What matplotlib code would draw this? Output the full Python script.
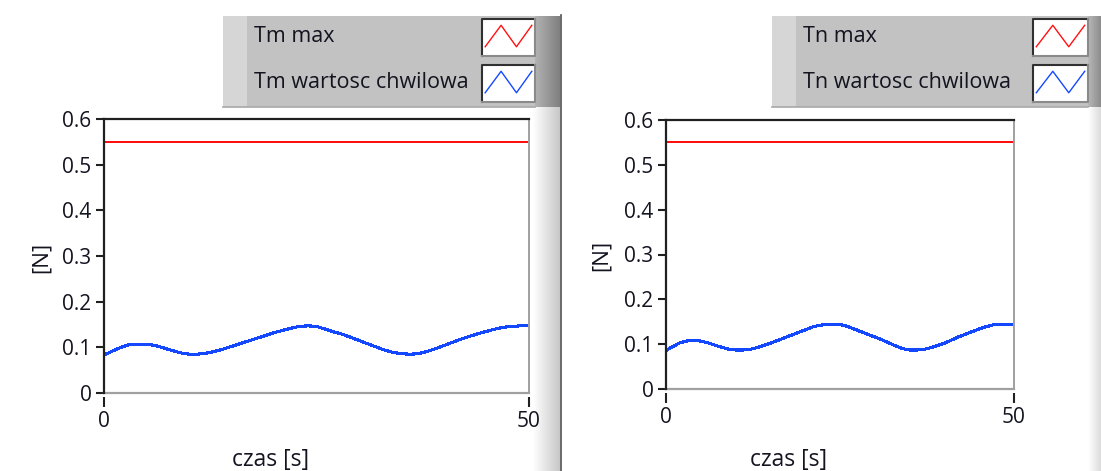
import numpy as np
import matplotlib
matplotlib.use("Agg")
import matplotlib.pyplot as plt
from matplotlib.patches import Rectangle
from matplotlib.lines import Line2D

# === Data ===
czas = list(range(0, 51))

tm_max = [0.55] * len(czas)
tm_chwilowa = [0.083, 0.092, 0.100, 0.106, 0.107, 0.107, 0.104, 0.099, 0.093, 0.088,
               0.085, 0.085, 0.087, 0.091, 0.096, 0.102, 0.108, 0.114, 0.120, 0.126,
               0.132, 0.137, 0.142, 0.146, 0.147, 0.146, 0.140, 0.134, 0.129, 0.122,
               0.115, 0.108, 0.101, 0.094, 0.089, 0.086, 0.085, 0.086, 0.091, 0.097,
               0.104, 0.111, 0.118, 0.124, 0.130, 0.135, 0.140, 0.144, 0.146, 0.147,
               0.147]

tn_max = [0.55] * len(czas)
tn_chwilowa = [0.086, 0.095, 0.103, 0.107, 0.108, 0.107, 0.103, 0.098, 0.093, 0.089,
               0.087, 0.087, 0.088, 0.092, 0.097, 0.102, 0.108, 0.114, 0.120, 0.126,
               0.132, 0.138, 0.142, 0.144, 0.144, 0.144, 0.140, 0.134, 0.128, 0.122,
               0.116, 0.110, 0.103, 0.096, 0.090, 0.087, 0.087, 0.088, 0.092, 0.097,
               0.102, 0.109, 0.116, 0.122, 0.128, 0.134, 0.139, 0.143, 0.144, 0.144,
               0.144]

y_ticks = [0, 0.1, 0.2, 0.3, 0.4, 0.5, 0.6]
y_ticklabels = ["0", "0.1", "0.2", "0.3", "0.4", "0.5", "0.6"]
x_ticks = [0, 50]

# === Look ===
plt.rcParams['font.family'] = ['Open Sans', 'DejaVu Sans']
W, H = 1101, 471
FS = 15
TXT = '#141420'
RED = '#ff1010'
BLUE = '#1448ff'


def box(x0, y0, x1, y1):
    # pixel box (top-left origin) -> figure fraction rect
    return [x0 / W, 1 - y1 / H, (x1 - x0) / W, (y1 - y0) / H]


def gradient(fig, rect, c0, c1):
    ax = fig.add_axes(rect, zorder=-1)
    g = np.linspace(c0, c1, 64)[None, :]
    ax.imshow(g, cmap='gray', vmin=0, vmax=1, aspect='auto')
    ax.set_axis_off()
    return ax


def rect(fig, x0, y0, x1, y1, **kw):
    r = box(x0, y0, x1, y1)
    fig.add_artist(Rectangle((r[0], r[1]), r[2], r[3], transform=fig.transFigure, **kw))


def swatch(fig, x0, y0, x1, y1, color):
    rect(fig, x0, y0, x1, y1, facecolor='white', edgecolor='none')
    # sunken border: dark top/left, grey bottom/right
    fig.add_artist(Line2D([x0 / W, x0 / W, x1 / W], [1 - y1 / H, 1 - y0 / H, 1 - y0 / H],
                          transform=fig.transFigure, color='#303030', lw=1.5))
    fig.add_artist(Line2D([x0 / W, x1 / W, x1 / W], [1 - y1 / H, 1 - y1 / H, 1 - y0 / H],
                          transform=fig.transFigure, color='#8a8a8a', lw=1.5))
    w, h = x1 - x0, y1 - y0
    zx = [0.06, 0.36, 0.65, 0.94]
    zy = [0.75, 0.17, 0.75, 0.17]
    fig.add_artist(Line2D([(x0 + a * w) / W for a in zx], [1 - (y0 + b * h) / H for b in zy],
                          transform=fig.transFigure, color=color, lw=1.0))


def legend(fig, x0, x1, names, sw_x0, sw_x1):
    rect(fig, x0, 16, x1, 107, facecolor='#c2c2c2', edgecolor='none')
    rect(fig, x0, 16, x0 + 24, 107, facecolor='#d6d6d6', edgecolor='none')
    fig.add_artist(Line2D([x0 / W, x1 / W], [1 - 107 / H, 1 - 107 / H],
                          transform=fig.transFigure, color='#a8a8a8', lw=1.2))
    for name, yc in zip(names, [37, 83]):
        fig.text((x0 + 31) / W, 1 - yc / H, name, fontsize=FS + 0.5, color=TXT,
                 ha='left', va='center')
    swatch(fig, sw_x0, 19, sw_x1, 56, RED)
    swatch(fig, sw_x0, 65, sw_x1, 102, BLUE)


def graph(fig, rect_px, series_max, series_now, xlab_px, ylab_px):
    ax = fig.add_axes(box(*rect_px))
    ax.plot(czas, series_max, color=RED, lw=1.4, antialiased=False)
    ax.plot(czas, series_now, color=BLUE, lw=1.5, antialiased=False)
    ax.set_xlim(0, 50)
    ax.set_ylim(0, 0.6)
    ax.set_yticks(y_ticks)
    ax.set_yticklabels(y_ticklabels)
    ax.set_xticks(x_ticks)
    ax.tick_params(axis='y', length=6, width=1.5, color='#202020', pad=3,
                   labelsize=FS, labelcolor=TXT)
    ax.tick_params(axis='x', length=7, width=1.5, color='#202020', pad=3,
                   labelsize=FS, labelcolor=TXT)
    for s in ['left', 'top']:
        ax.spines[s].set_color('#202020')
        ax.spines[s].set_linewidth(1.6)
    ax.spines['right'].set_color('#a0a0a0')
    ax.spines['right'].set_linewidth(1.4)
    # x ticks sit a little below the frame
    ax.spines['bottom'].set_position(('outward', 3))
    ax.spines['bottom'].set_visible(False)
    ax.plot([0, 1], [0, 0], transform=ax.transAxes, color='#a0a0a0', lw=1.6, clip_on=False)
    fig.text(xlab_px[0] / W, 1 - xlab_px[1] / H, 'czas [s]', fontsize=FS + 1.5, color=TXT,
             ha='center', va='center')
    fig.text(ylab_px[0] / W, 1 - ylab_px[1] / H, '[N]', fontsize=FS + 1, color=TXT,
             ha='center', va='center', rotation=90)
    return ax


fig = plt.figure(figsize=(W / 100, H / 100), dpi=100)
fig.patch.set_facecolor('white')

# panel frame strips
gradient(fig, box(533, 107, 560, H), 1.0, 0.78)
gradient(fig, box(1088, 107, W, H), 1.0, 0.86)
gradient(fig, box(535, 16, 560, 107), 0.70, 0.50)
gradient(fig, box(1088, 16, W, 107), 0.72, 0.55)
fig.add_artist(Line2D([561 / W, 561 / W], [0, 1 - 15 / H], transform=fig.transFigure,
                      color='#505050', lw=1.2))

legend(fig, 223, 535, ['Tm max', 'Tm wartosc chwilowa'], 482, 535)
legend(fig, 772, 1088, ['Tn max', 'Tn wartosc chwilowa'], 1033, 1088)

graph(fig, (104, 119, 529, 393), tm_max, tm_chwilowa, (271, 460), (41, 257))
graph(fig, (666, 120, 1014, 389), tn_max, tn_chwilowa, (789, 460), (601, 255))

fig.savefig('out.png', dpi=100)
